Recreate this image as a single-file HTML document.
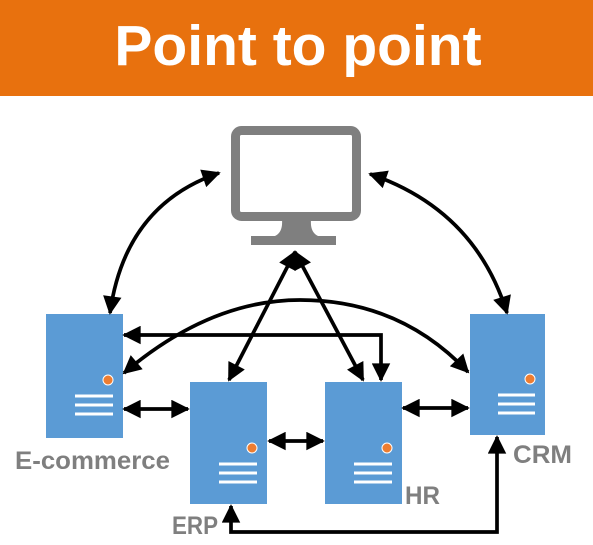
<!DOCTYPE html>
<html><head><style>
html,body{margin:0;padding:0;background:#fff;}
</style></head><body>
<svg width="593" height="540" viewBox="0 0 593 540" xmlns="http://www.w3.org/2000/svg">
<defs>
<marker id="a" viewBox="0 0 10 10" refX="9" refY="5" markerWidth="5.5" markerHeight="5" orient="auto-start-reverse" markerUnits="strokeWidth">
<path d="M0,0 L10,5 L0,10 z" fill="#000"/></marker>
</defs>
<rect x="0" y="0" width="593" height="96" fill="#E8710E"/>
<text x="298" y="65" text-anchor="middle" font-family="Liberation Sans, sans-serif" font-weight="bold" font-size="57" fill="#fff">Point to point</text>

<!-- monitor -->
<rect x="235.5" y="130.5" width="121" height="86" rx="6" fill="none" stroke="#7f7f7f" stroke-width="9"/>
<path d="M282,220 L311,220 Q310,232 318,236 L336,236 L336,245 L251,245 L251,236 L275,236 Q283,232 282,220 z" fill="#7f7f7f"/>

<!-- servers -->
<g fill="#5B9BD5">
<rect x="46" y="314" width="77" height="124"/>
<rect x="190" y="382" width="77" height="122"/>
<rect x="325" y="382" width="77" height="122"/>
<rect x="470" y="314" width="75" height="121"/>
</g>
<g fill="#ED7D31" stroke="#fff" stroke-width="1">
<circle cx="108" cy="380" r="5"/><circle cx="252" cy="448" r="5"/><circle cx="387" cy="448" r="5"/><circle cx="530" cy="379" r="5"/>
</g>
<g stroke="#fff" stroke-width="3">
<path d="M75,396H113M75,405H113M75,414H113"/>
<path d="M219,464H257M219,473H257M219,482H257"/>
<path d="M354,464H392M354,473H392M354,482H392"/>
<path d="M498,395H535M498,404H535M498,413H535"/>
</g>

<g fill="none" stroke="#000" stroke-width="3.7" marker-start="url(#a)" marker-end="url(#a)">
<path d="M219,173 Q125,205 110,313"/>
<path d="M370,174 Q475,210 507,313"/>
<path d="M124,373 Q210,300 300,300 Q400,300 468,372"/>
<path d="M124,335 H381 V380"/>
<path d="M295,252 L229,380"/>
<path d="M295,252 L363,380"/>
<path d="M124,409 H188"/>
<path d="M269,441 H323"/>
<path d="M403,408 H468"/>
<path d="M231,506 V532 H497 V437"/>
</g>

<g font-family="Liberation Sans, sans-serif" font-weight="bold" font-size="25" fill="#7f7f7f">
<text x="15" y="469" textLength="155" lengthAdjust="spacingAndGlyphs">E-commerce</text>
<text x="172" y="534" textLength="46" lengthAdjust="spacingAndGlyphs">ERP</text>
<text x="405" y="504" textLength="35" lengthAdjust="spacingAndGlyphs">HR</text>
<text x="513" y="463" textLength="59" lengthAdjust="spacingAndGlyphs">CRM</text>
</g>
</svg>
</body></html>
